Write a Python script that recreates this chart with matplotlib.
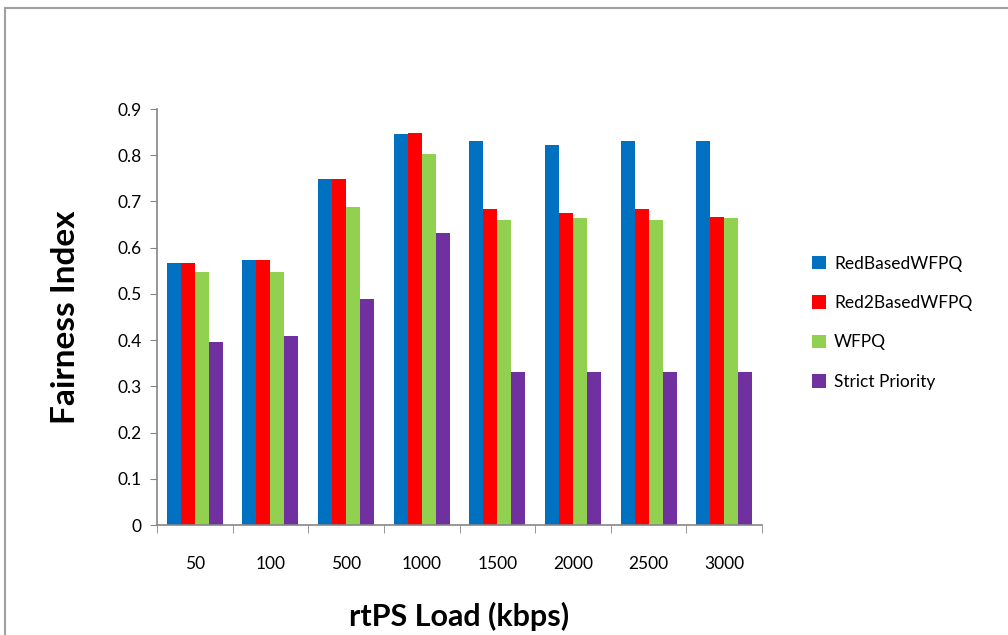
import numpy as np
import matplotlib.pyplot as plt
from matplotlib.patches import Rectangle

loads = ["50", "100", "500", "1000", "1500", "2000", "2500", "3000"]
red_based = [0.566, 0.574, 0.748, 0.846, 0.830, 0.823, 0.830, 0.830]
red2_based = [0.566, 0.574, 0.748, 0.849, 0.683, 0.675, 0.683, 0.667]
wfpq = [0.547, 0.547, 0.687, 0.803, 0.659, 0.664, 0.659, 0.664]
strict = [0.395, 0.408, 0.489, 0.631, 0.330, 0.330, 0.330, 0.330]

series = [red_based, red2_based, wfpq, strict]
names = ["RedBasedWFPQ", "Red2BasedWFPQ", "WFPQ", "Strict Priority"]
colors = ["#0070C0", "#FF0000", "#92D050", "#7030A0"]

plt.rcParams['font.family'] = ['Lato', 'DejaVu Sans']

fig = plt.figure(figsize=(10.08, 6.35), dpi=100)
ax = fig.add_axes([157/1008, 1 - 525/635, (762-157)/1008, (525-109)/635])

# outer chart frame (only top and left edges fall inside the image)
fig.patches.append(Rectangle((5/1008, -0.1), 1.1, 1.1 - 8/635, transform=fig.transFigure,
                             fill=False, edgecolor="#a0a0a0", linewidth=1.5))

x = np.arange(len(loads))
w = 0.185
for i, (vals, name, c) in enumerate(zip(series, names, colors)):
    ax.bar(x + (i - 1.5) * w, vals, w, color=c, label=name)

ax.set_xlim(-0.5, len(loads) - 0.5)
ax.set_ylim(0, 0.9)
ax.set_yticks(np.arange(0, 0.91, 0.1))
ax.set_yticklabels(["0"] + ["%.1f" % v for v in np.arange(0.1, 0.91, 0.1)])
ax.set_xticks(x)
ax.set_xticklabels(loads)
ax.set_xticks(np.arange(-0.5, len(loads), 1), minor=True)
ax.tick_params(axis="x", which="major", length=0, pad=22, labelsize=12.5)
ax.tick_params(axis="x", which="minor", length=6, color="#868686")
ax.tick_params(axis="y", length=5, color="#868686", labelsize=12.5, pad=6)

for s in ["top", "right"]:
    ax.spines[s].set_visible(False)
for s in ["left", "bottom"]:
    ax.spines[s].set_color("#868686")
    ax.spines[s].set_linewidth(1.2)

ax.set_ylabel("Fairness Index", fontsize=24, fontweight="bold", labelpad=27)
ax.set_xlabel("rtPS Load (kbps)", fontsize=22, fontweight="bold", labelpad=22)

ax.legend(loc="upper left", bbox_to_anchor=(796/1008, 1 - 240/635),
          bbox_transform=fig.transFigure, frameon=False, fontsize=12.5,
          handlelength=0.8, handleheight=0.8, labelspacing=1.35, handletextpad=0.5)

fig.savefig("out.png", dpi=100)
